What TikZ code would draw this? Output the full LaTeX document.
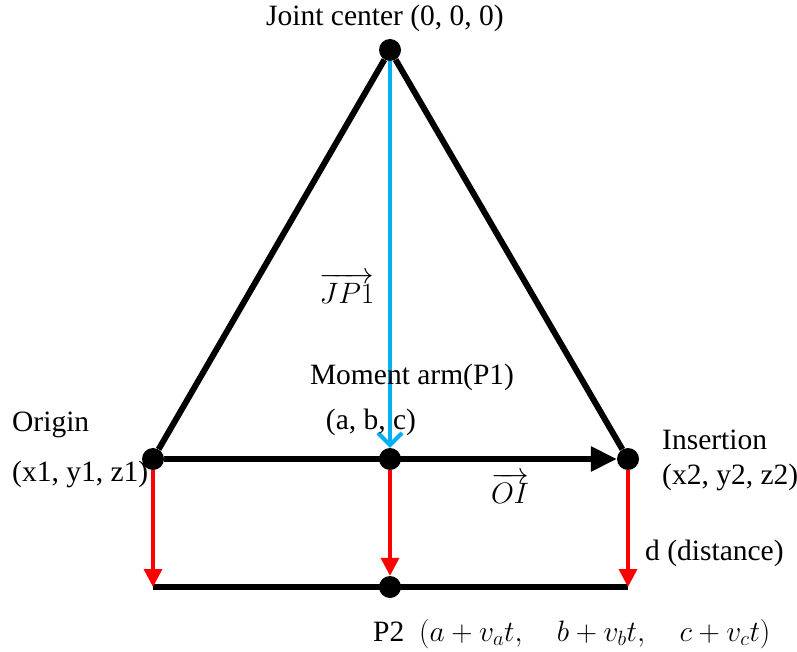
\RequirePackage{fix-cm}
\documentclass[tikz,border=0pt]{standalone}
\usepackage{amsmath}
\usepackage{fontspec}
\setmainfont{Liberation Serif}
\newfontfamily\labelfont{Liberation Serif}
\usetikzlibrary{positioning,arrows.meta}
\definecolor{armblue}{RGB}{0,176,240}
\tikzset{
  jointdot/.style={circle, fill=black, inner sep=0pt, minimum size=22pt},
  boneline/.style={line width=6pt},
  forcearrow/.style={-{Triangle[length=18pt, width=18pt]}, line width=3.5pt, red},
  armarrow/.style={-{Straight Barb[length=12pt, width=24pt, line width=4pt]}, line width=4.5pt, armblue},
  lbl/.style={font=\labelfont\fontsize{29.5}{34}\selectfont, inner sep=0pt}
}
\begin{document}
\begin{tikzpicture}[x=1pt, y=-1pt]
  \useasboundingbox (0,0) rectangle (797,652);
  % points of the triangle
  \node[jointdot] (J) at (390,50) {};
  \node[jointdot] (O) at (153,459) {};
  \node[jointdot] (P1) at (390,459) {};
  \node[jointdot] (I) at (628,459) {};
  \node[jointdot] (P2) at (390,587) {};
  \coordinate (B1) at (153,587);
  \coordinate (B3) at (628,587);
  % bones
  \draw[boneline] (J) -- (O);
  \draw[boneline] (J) -- (I);
  \draw[boneline, -{Triangle[length=26pt, width=24pt]}] (O) -- (I);
  \draw[boneline] (B1) -- (B3);
  % arrows
  \draw[armarrow] (J) -- (P1);
  \draw[forcearrow] (O) -- (B1);
  \draw[forcearrow] (P1) -- (P2);
  \draw[forcearrow] (I) -- (B3);
  % labels
  \node[lbl] (jl) at (385,18) {Joint center (0, 0, 0)};
  \node[lbl] (jp) at (347,288) {$\overrightarrow{JP1}$};
  \node[lbl] (ma) at (412,377) {Moment arm(P1)};
  \node[lbl] (abc) at (371,422) {(a, b, c)};
  \node[lbl, anchor=west] (ol) at (12,425) {Origin};
  \node[lbl, anchor=west] (oc) at (12,474) {(x1, y1, z1)};
  \node[lbl, anchor=west] (il) at (662,440) {Insertion};
  \node[lbl, anchor=west] (ic) at (662,477) {(x2, y2, z2)};
  \node[lbl] (oi) at (510,488) {$\overrightarrow{OI}$};
  \node[lbl, anchor=west] (dl) at (645,553) {d (distance)};
  \node[lbl, anchor=west] (p2l) at (373,634) {P2\ \ $(a+v_at,\quad b+v_bt,\quad c+v_ct)$};
\end{tikzpicture}
\end{document}
